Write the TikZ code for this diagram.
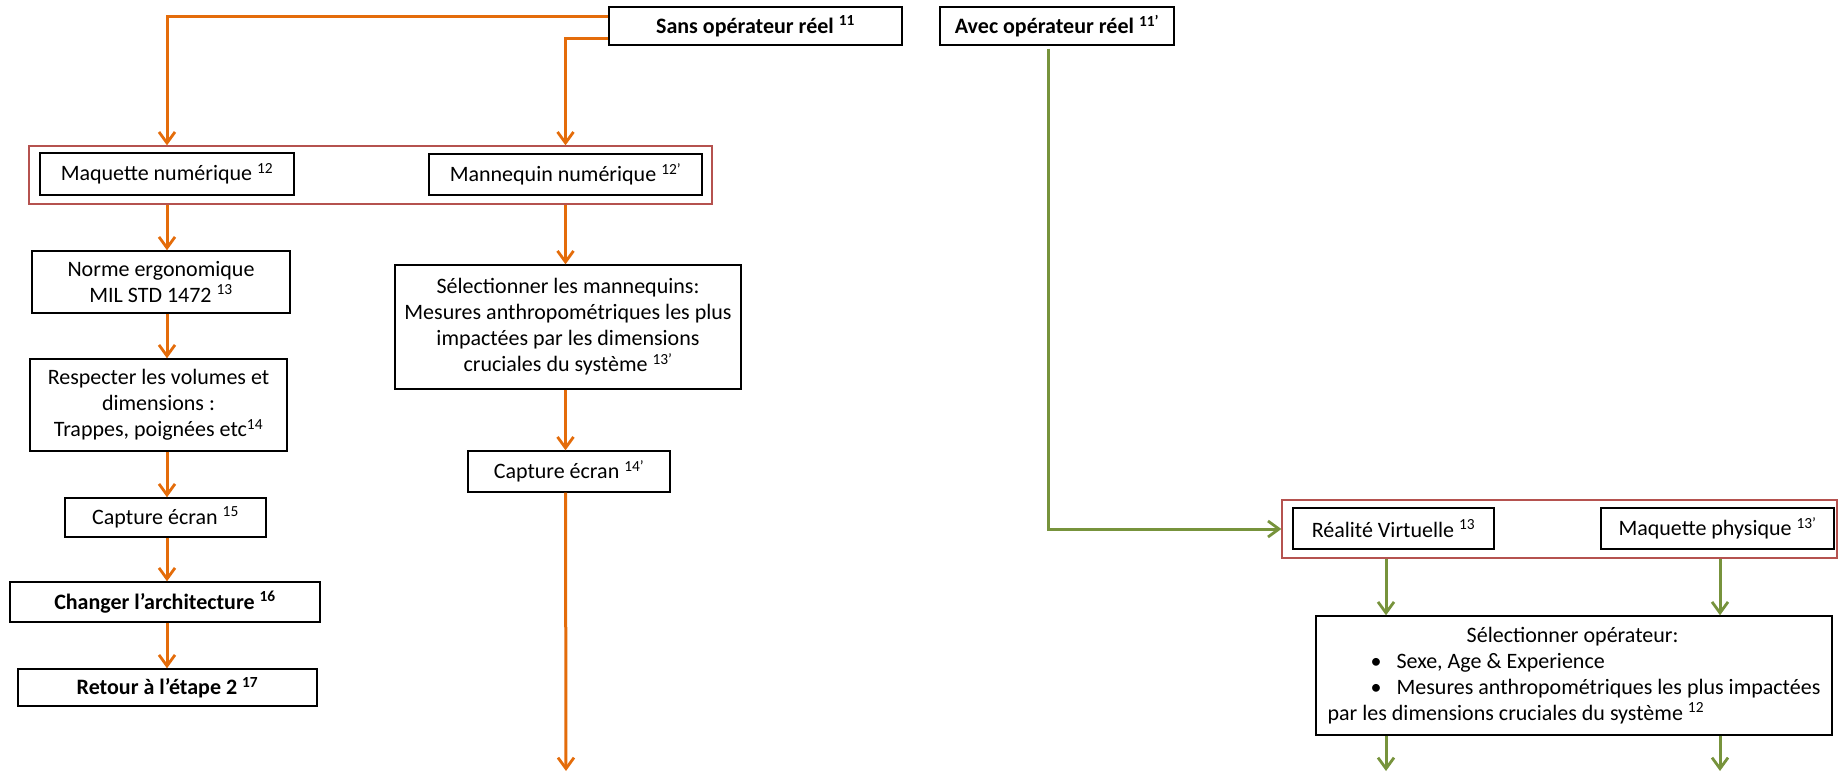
\documentclass[tikz,border=0pt]{standalone}
\usepackage{fontspec}
\setmainfont{Carlito}
\usepackage{tikz}
\usetikzlibrary{arrows.meta,positioning,calc}
\definecolor{flowOrange}{HTML}{E46C0A}
\definecolor{flowGreen}{HTML}{77933C}
\definecolor{groupRed}{HTML}{B5524F}

\begin{document}
\begin{tikzpicture}[x=1pt,y=-1pt,
  box/.style={draw,line width=1.4pt,fill=white,align=center,inner sep=2pt,font=\fontsize{22}{26}\selectfont},
  boldbox/.style={box,font=\fontsize{22}{26}\selectfont\bfseries},
  group/.style={draw=groupRed,line width=1.3pt},
  oarrow/.style={-{Straight Barb[length=11pt,width=16pt,line width=2.8pt]},line width=3pt,color=flowOrange},
  garrow/.style={-{Straight Barb[length=11pt,width=16pt,line width=2.8pt]},line width=3pt,color=flowGreen}
]
  \useasboundingbox (0,0) rectangle (1838,773);
  % group frames
  \node[group,minimum width=683pt,minimum height=58pt] (grpA) at (370.5,175) {};
  \node[group,minimum width=555pt,minimum height=58pt] (grpB) at (1559.5,529) {};
  % top boxes
  \node[boldbox,minimum width=293pt,minimum height=38pt] (sans) at (755.5,26) {Sans opérateur réel \textsuperscript{11}};
  \node[boldbox,minimum width=234pt,minimum height=38pt] (avec) at (1057,26) {Avec opérateur réel \textsuperscript{11’}};
  % left column
  \node[box,minimum width=254pt,minimum height=42pt] (maqnum) at (167,174) {Maquette numérique \textsuperscript{12}};
  \node[box,minimum width=258pt,minimum height=62pt] (norme) at (161,282) {Norme ergonomique\\MIL STD 1472 \textsuperscript{13}};
  \node[box,minimum width=257pt,minimum height=92pt] (respect) at (158.5,405) {Respecter les volumes et\\dimensions :\\Trappes, poignées etc\textsuperscript{14}};
  \node[box,minimum width=201pt,minimum height=39pt] (capt15) at (165.5,517.5) {Capture écran \textsuperscript{15}};
  \node[boldbox,minimum width=310pt,minimum height=40pt] (changer) at (165,602) {Changer l’architecture \textsuperscript{16}};
  \node[boldbox,minimum width=299pt,minimum height=37pt] (retour) at (167.5,687.5) {Retour à l’étape 2 \textsuperscript{17}};
  % middle column
  \node[box,minimum width=273pt,minimum height=41pt] (mannum) at (565.5,174.5) {Mannequin numérique \textsuperscript{12’}};
  \node[box,minimum width=346pt,minimum height=124pt] (selman) at (568,327) {Sélectionner les mannequins:\\Mesures anthropométriques les plus\\impactées par les dimensions\\cruciales du système \textsuperscript{13’}};
  \node[box,minimum width=202pt,minimum height=41pt] (capt14) at (569,471.5) {Capture écran \textsuperscript{14’}};
  \coordinate (endM) at (566,771);
  % right column
  \node[box,minimum width=201pt,minimum height=41pt] (rv) at (1393.5,528.5) {Réalité Virtuelle \textsuperscript{13}};
  \node[box,minimum width=233pt,minimum height=41pt] (maqphy) at (1717.5,528.5) {Maquette physique \textsuperscript{13’}};
  \node[box,minimum width=516pt,minimum height=119pt,align=left,inner sep=0pt] (selop) at (1574,675.5) {\makebox[490pt][c]{Sélectionner opérateur:}\\
    \hspace*{43pt}\makebox[26pt][l]{\textbullet}Sexe, Age \& Experience\\
    \hspace*{43pt}\makebox[26pt][l]{\textbullet}Mesures anthropométriques les plus impactées\\
    par les dimensions cruciales du système \textsuperscript{12}};
  \coordinate (endR1) at (1386,771);
  \coordinate (endR2) at (1720,771);

  % orange connectors
  \draw[oarrow] ([yshift=9pt]sans.west) -| (maqnum.north |- grpA.north);
  \draw[oarrow] ([yshift=-13pt]sans.west) -| (mannum.north |- grpA.north);
  \draw[oarrow] (maqnum |- grpA.south) -- (maqnum |- norme.north);
  \draw[oarrow] (maqnum |- norme.south) -- (maqnum |- respect.north);
  \draw[oarrow] (maqnum |- respect.south) -- (maqnum |- capt15.north);
  \draw[oarrow] (maqnum |- capt15.south) -- (maqnum |- changer.north);
  \draw[oarrow] (maqnum |- changer.south) -- (maqnum |- retour.north);
  \draw[oarrow] (mannum |- grpA.south) -- (mannum |- selman.north);
  \draw[oarrow] (mannum |- selman.south) -- (mannum |- capt14.north);
  \draw[oarrow] (mannum |- capt14.south) -- (endM);
  % green connectors
  \draw[garrow] ([xshift=-9pt,yshift=-3pt]avec.south) |- (grpB.west);
  \draw[garrow] (endR1 |- grpB.south) -- (endR1 |- selop.north);
  \draw[garrow] (endR2 |- grpB.south) -- (endR2 |- selop.north);
  \draw[garrow] (endR1 |- selop.south) -- (endR1);
  \draw[garrow] (endR2 |- selop.south) -- (endR2);
\end{tikzpicture}
\end{document}
